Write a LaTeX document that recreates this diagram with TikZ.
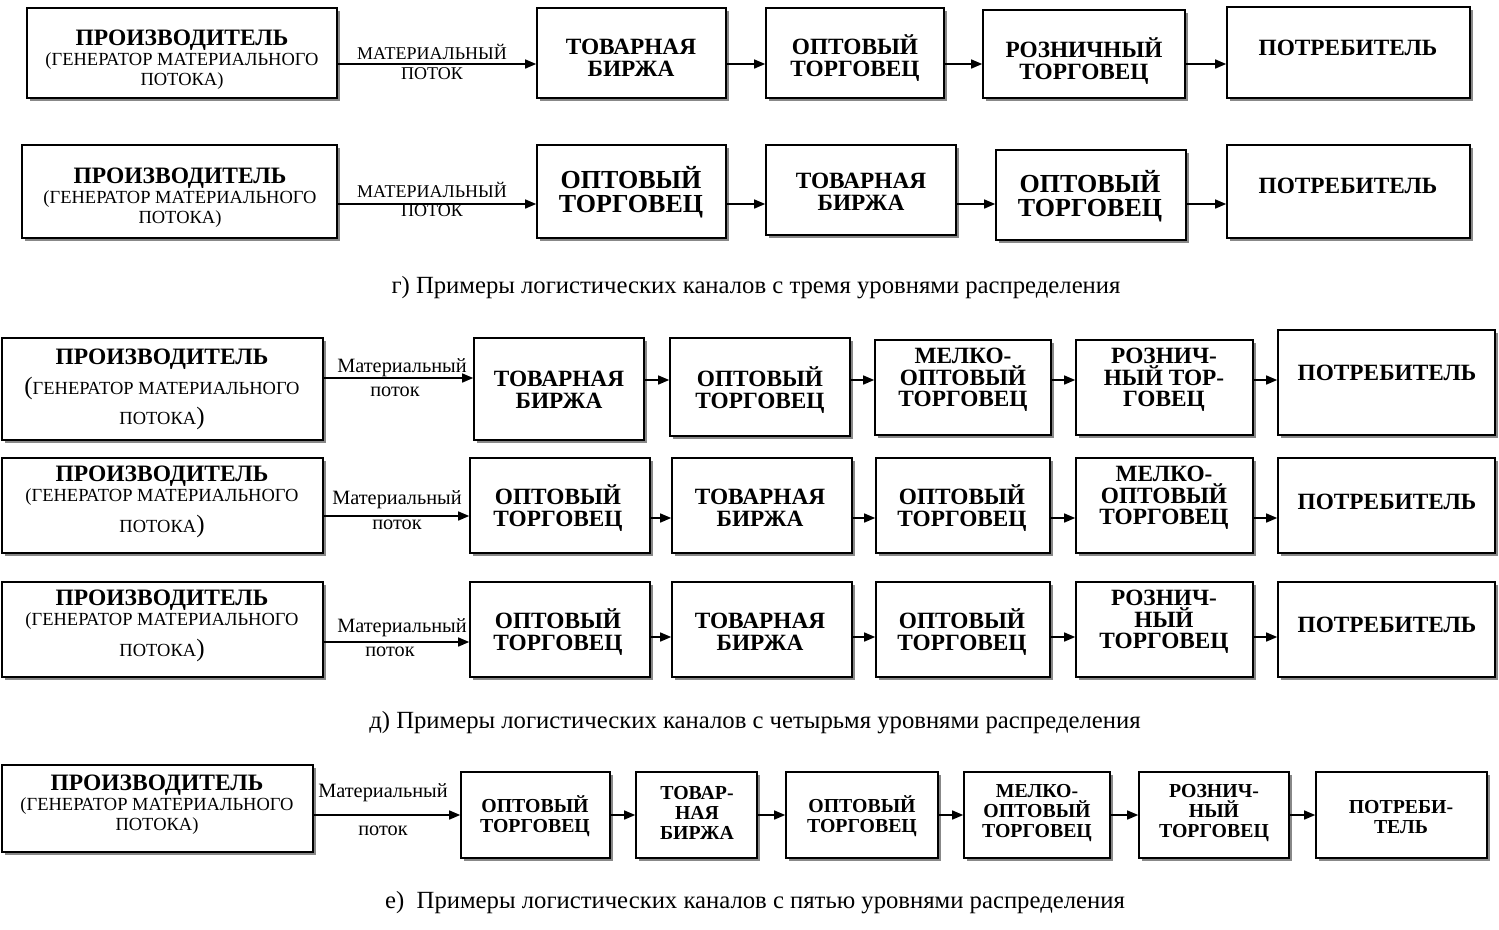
\documentclass[tikz,border=0pt]{standalone}
\usepackage{fontspec}
\setmainfont{Liberation Serif}
\usetikzlibrary{arrows.meta,fit,shadows}
\newcommand{\bp}[1]{{\fontsize{25}{24}\selectfont #1}}
\newcommand{\ttlf}{\bfseries\fontsize{23.5}{20}\selectfont}
\begin{document}
\begin{tikzpicture}[x=1pt,y=-1pt,
  box/.style={draw, line width=1.6pt, fill=white, inner sep=0pt,
    drop shadow={shadow xshift=2.5pt, shadow yshift=-2.5pt, fill=black!55, opacity=0.85}},
  txt/.style={align=center, inner sep=0pt},
  bA/.style={txt, font=\bfseries\fontsize{23.3}{21.5}\selectfont},
  bB/.style={txt, font=\bfseries\fontsize{26}{24}\selectfont},
  bC/.style={txt, font=\bfseries\fontsize{19.8}{20}\selectfont},
  prod/.style={txt, font=\fontsize{18.5}{20}\selectfont},
  lab/.style={inner sep=0pt, font=\fontsize{18}{18}\selectfont},
  labs/.style={inner sep=0pt, font=\fontsize{20.3}{18}\selectfont},
  captxt/.style={inner sep=0pt, font=\fontsize{24.7}{24}\selectfont},
  arr/.style={line width=1.4pt, -{Triangle[length=11pt,width=9pt]}}
]
\useasboundingbox (0,0) rectangle (1499,929);

% ---------------- Row 1
\node[box, fit={(27,8) (337,98)}] (b11) {};
\node[box, fit={(537,8) (726,98)}] (b12) {};
\node[box, fit={(766,8) (944,98)}] (b13) {};
\node[box, fit={(983,10) (1185,98)}] (b14) {};
\node[box, fit={(1227,7) (1470,98)}] (b15) {};
\node[prod] (t11) at (182,60) {{\ttlf ПРОИЗВОДИТЕЛЬ}\\(ГЕНЕРАТОР МАТЕРИАЛЬНОГО\\ПОТОКА)};
\node[bA] (t12) at (631,58) {ТОВАРНАЯ\\БИРЖА};
\node[bA] (t13) at (855,58) {ОПТОВЫЙ\\ТОРГОВЕЦ};
\node[bA] (t14) at (1084,61) {РОЗНИЧНЫЙ\\ТОРГОВЕЦ};
\node[bA] (t15) at (1348,48) {ПОТРЕБИТЕЛЬ};
\node[lab] (l11) at (432,52) {МАТЕРИАЛЬНЫЙ};
\node[lab] (l12) at (432,74) {ПОТОК};
\draw[arr] (b11.east |- 0,64) -- (b12.west |- 0,64);
\draw[arr] (b12.east |- 0,64) -- (b13.west |- 0,64);
\draw[arr] (b13.east |- 0,64) -- (b14.west |- 0,64);
\draw[arr] (b14.east |- 0,64) -- (b15.west |- 0,64);

% ---------------- Row 2
\node[box, fit={(22,145) (337,238)}] (b21) {};
\node[box, fit={(537,145) (726,238)}] (b22) {};
\node[box, fit={(766,145) (956,235)}] (b23) {};
\node[box, fit={(996,150) (1186,240)}] (b24) {};
\node[box, fit={(1227,145) (1470,238)}] (b25) {};
\node[prod] (t21) at (180,198) {{\ttlf ПРОИЗВОДИТЕЛЬ}\\(ГЕНЕРАТОР МАТЕРИАЛЬНОГО\\ПОТОКА)};
\node[bB] (t22) at (631,192) {ОПТОВЫЙ\\ТОРГОВЕЦ};
\node[bA] (t23) at (861,192) {ТОВАРНАЯ\\БИРЖА};
\node[bB] (t24) at (1090,196) {ОПТОВЫЙ\\ТОРГОВЕЦ};
\node[bA] (t25) at (1348,186) {ПОТРЕБИТЕЛЬ};
\node[lab] (l21) at (432,190) {МАТЕРИАЛЬНЫЙ};
\node[lab] (l22) at (432,211) {ПОТОК};
\draw[arr] (b21.east |- 0,204) -- (b22.west |- 0,204);
\draw[arr] (b22.east |- 0,204) -- (b23.west |- 0,204);
\draw[arr] (b23.east |- 0,204) -- (b24.west |- 0,204);
\draw[arr] (b24.east |- 0,204) -- (b25.west |- 0,204);

\node[captxt] (c1) at (756,288) {г) Примеры логистических каналов с тремя уровнями распределения};

% ---------------- Row 3
\node[box, fit={(2,338) (323,440)}] (b31) {};
\node[box, fit={(474,338) (644,440)}] (b32) {};
\node[box, fit={(670,338) (850,436)}] (b33) {};
\node[box, fit={(875,340) (1051,435)}] (b34) {};
\node[box, fit={(1076,340) (1253,435)}] (b35) {};
\node[box, fit={(1278,330) (1495,435)}] (b36) {};
\node[txt, font=\fontsize{18.5}{30}\selectfont] (t31) at (162,389) {{\ttlf ПРОИЗВОДИТЕЛЬ}\\\bp{(}ГЕНЕРАТОР МАТЕРИАЛЬНОГО\\ПОТОКА\bp{)}};
\node[bA] (t32) at (559,390) {ТОВАРНАЯ\\БИРЖА};
\node[bA] (t33) at (760,390) {ОПТОВЫЙ\\ТОРГОВЕЦ};
\node[bA] (t34) at (963,380) {МЕЛКО-\\ОПТОВЫЙ\\ТОРГОВЕЦ};
\node[bA] (t35) at (1164,380) {РОЗНИЧ-\\НЫЙ ТОР-\\ГОВЕЦ};
\node[bA] (t36) at (1387,373) {ПОТРЕБИТЕЛЬ};
\node[labs] (l31) at (402,368) {Материальный};
\node[labs] (l32) at (395,392) {поток};
\draw[arr] (b31.east |- 0,378) -- (b32.west |- 0,378);
\draw[arr] (b32.east |- 0,380) -- (b33.west |- 0,380);
\draw[arr] (b33.east |- 0,380) -- (b34.west |- 0,380);
\draw[arr] (b34.east |- 0,380) -- (b35.west |- 0,380);
\draw[arr] (b35.east |- 0,380) -- (b36.west |- 0,380);

% ---------------- Row 4
\node[box, fit={(2,458) (323,553)}] (b41) {};
\node[box, fit={(470,458) (650,553)}] (b42) {};
\node[box, fit={(672,458) (852,553)}] (b43) {};
\node[box, fit={(876,458) (1050,553)}] (b44) {};
\node[box, fit={(1076,458) (1253,553)}] (b45) {};
\node[box, fit={(1278,458) (1495,553)}] (b46) {};
\node[txt, font=\fontsize{18.5}{20}\selectfont] (t41) at (162,502) {{\ttlf ПРОИЗВОДИТЕЛЬ}\\(ГЕНЕРАТОР МАТЕРИАЛЬНОГО\\[8pt]ПОТОКА\bp{)}};
\node[bA] (t42) at (558,508) {ОПТОВЫЙ\\ТОРГОВЕЦ};
\node[bA] (t43) at (760,508) {ТОВАРНАЯ\\БИРЖА};
\node[bA] (t44) at (962,508) {ОПТОВЫЙ\\ТОРГОВЕЦ};
\node[bA] (t45) at (1164,498) {МЕЛКО-\\ОПТОВЫЙ\\ТОРГОВЕЦ};
\node[bA] (t46) at (1387,502) {ПОТРЕБИТЕЛЬ};
\node[labs] (l41) at (397,500) {Материальный};
\node[labs] (l42) at (397,525) {поток};
\draw[arr] (b41.east |- 0,516) -- (b42.west |- 0,516);
\draw[arr] (b42.east |- 0,518) -- (b43.west |- 0,518);
\draw[arr] (b43.east |- 0,518) -- (b44.west |- 0,518);
\draw[arr] (b44.east |- 0,518) -- (b45.west |- 0,518);
\draw[arr] (b45.east |- 0,518) -- (b46.west |- 0,518);

% ---------------- Row 5
\node[box, fit={(2,582) (323,677)}] (b51) {};
\node[box, fit={(470,582) (650,677)}] (b52) {};
\node[box, fit={(672,582) (852,677)}] (b53) {};
\node[box, fit={(876,582) (1050,677)}] (b54) {};
\node[box, fit={(1076,582) (1253,677)}] (b55) {};
\node[box, fit={(1278,582) (1495,677)}] (b56) {};
\node[txt, font=\fontsize{18.5}{20}\selectfont] (t51) at (162,626) {{\ttlf ПРОИЗВОДИТЕЛЬ}\\(ГЕНЕРАТОР МАТЕРИАЛЬНОГО\\[8pt]ПОТОКА\bp{)}};
\node[bA] (t52) at (558,632) {ОПТОВЫЙ\\ТОРГОВЕЦ};
\node[bA] (t53) at (760,632) {ТОВАРНАЯ\\БИРЖА};
\node[bA] (t54) at (962,632) {ОПТОВЫЙ\\ТОРГОВЕЦ};
\node[bA] (t55) at (1164,622) {РОЗНИЧ-\\НЫЙ\\ТОРГОВЕЦ};
\node[bA] (t56) at (1387,625) {ПОТРЕБИТЕЛЬ};
\node[labs] (l51) at (402,628) {Материальный};
\node[labs] (l52) at (390,652) {поток};
\draw[arr] (b51.east |- 0,642) -- (b52.west |- 0,642);
\draw[arr] (b52.east |- 0,637) -- (b53.west |- 0,637);
\draw[arr] (b53.east |- 0,637) -- (b54.west |- 0,637);
\draw[arr] (b54.east |- 0,637) -- (b55.west |- 0,637);
\draw[arr] (b55.east |- 0,637) -- (b56.west |- 0,637);

\node[captxt] (c2) at (755,723) {д) Примеры логистических каналов с четырьмя уровнями распределения};

% ---------------- Row 6
\node[box, fit={(2,765) (313,852)}] (b61) {};
\node[box, fit={(461,772) (610,858)}] (b62) {};
\node[box, fit={(636,772) (757,858)}] (b63) {};
\node[box, fit={(786,772) (938,858)}] (b64) {};
\node[box, fit={(964,772) (1110,858)}] (b65) {};
\node[box, fit={(1139,772) (1289,858)}] (b66) {};
\node[box, fit={(1316,772) (1487,858)}] (b67) {};
\node[prod] (t61) at (157,805) {{\ttlf ПРОИЗВОДИТЕЛЬ}\\(ГЕНЕРАТОР МАТЕРИАЛЬНОГО\\ПОТОКА)};
\node[bC] (t62) at (535,816) {ОПТОВЫЙ\\ТОРГОВЕЦ};
\node[bC] (t63) at (697,813) {ТОВАР-\\НАЯ\\БИРЖА};
\node[bC] (t64) at (862,816) {ОПТОВЫЙ\\ТОРГОВЕЦ};
\node[bC] (t65) at (1037,813) {МЕЛКО-\\ОПТОВЫЙ\\ТОРГОВЕЦ};
\node[bC] (t66) at (1214,813) {РОЗНИЧ-\\НЫЙ\\ТОРГОВЕЦ};
\node[bC] (t67) at (1401,817) {ПОТРЕБИ-\\ТЕЛЬ};
\node[labs] (l61) at (383,793) {Материальный};
\node[labs] (l62) at (383,831) {поток};
\draw[arr] (b61.east |- 0,815) -- (b62.west |- 0,815);
\draw[arr] (b62.east |- 0,815) -- (b63.west |- 0,815);
\draw[arr] (b63.east |- 0,815) -- (b64.west |- 0,815);
\draw[arr] (b64.east |- 0,815) -- (b65.west |- 0,815);
\draw[arr] (b65.east |- 0,815) -- (b66.west |- 0,815);
\draw[arr] (b66.east |- 0,815) -- (b67.west |- 0,815);

\node[captxt] (c3) at (755,903) {е)\ \ Примеры логистических каналов с пятью уровнями распределения};
\end{tikzpicture}
\end{document}
